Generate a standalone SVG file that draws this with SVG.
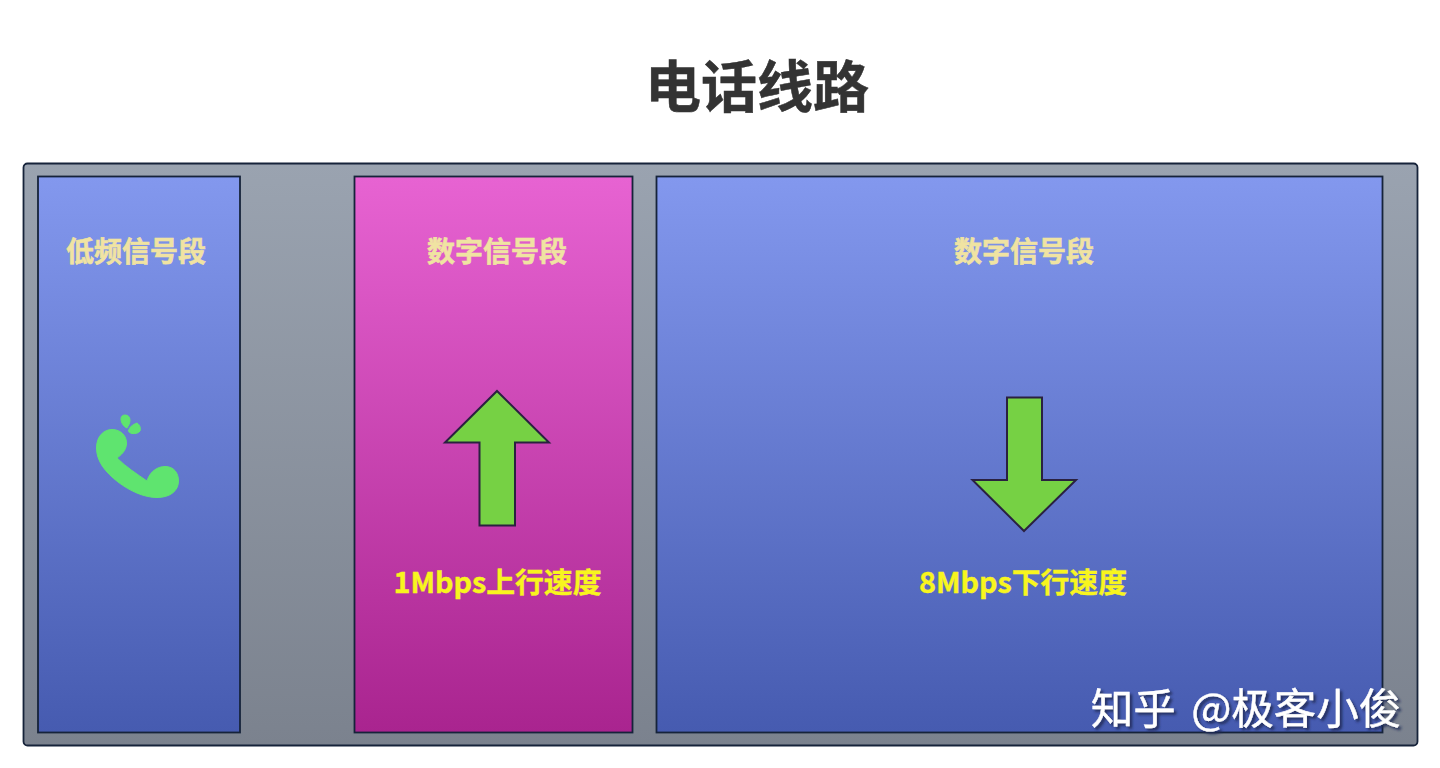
<svg xmlns="http://www.w3.org/2000/svg" width="1440" height="768" viewBox="0 0 1440 768">
<defs>
<linearGradient id="g" x1="0" y1="0" x2="0" y2="1"><stop offset="0" stop-color="#9aa3b0"/><stop offset="1" stop-color="#7b828e"/></linearGradient>
<linearGradient id="b" x1="0" y1="0" x2="0" y2="1"><stop offset="0" stop-color="#8398ee"/><stop offset="1" stop-color="#465bb0"/></linearGradient>
<linearGradient id="p" x1="0" y1="0" x2="0" y2="1"><stop offset="0" stop-color="#e763d2"/><stop offset="1" stop-color="#a9248f"/></linearGradient>
<filter id="s" x="-5%" y="-20%" width="110%" height="140%"><feDropShadow dx="2.500" dy="2.500" stdDeviation="1" flood-color="#1c2a55" flood-opacity="0.85"/></filter>
</defs>
<style>
text{font-family:"Noto Sans CJK SC","Noto Sans",sans-serif;text-anchor:middle}
.panel{stroke:#16233a;stroke-width:1.8}
.head{font-size:28px;font-weight:700;fill:#f0e3a2;stroke:#f0e3a2;stroke-width:.6}
.speed{font-size:28.8px;font-weight:700;fill:#f8f51e;stroke:#f8f51e;stroke-width:.4}
.arrow{fill:#76d144;stroke:#2a2140;stroke-width:2;stroke-linejoin:miter}
</style>
<rect width="1440" height="768" fill="#fff"/>
<g id="title"><text x="757" y="107" font-size="56" font-weight="700" fill="#333333" stroke="#333333" stroke-width=".5">电话线路</text></g>
<g id="line"><rect class="panel" x="23.500" y="163.500" width="1394" height="582" rx="4" fill="url(#g)"/></g>
<g id="low-band">
<rect class="panel" x="38" y="176.500" width="202" height="556" fill="url(#b)"/>
<text class="head" x="136" y="262">低频信号段</text>
<g id="phone" fill="#5fe46f" stroke="#5fe46f" stroke-width="1" stroke-linejoin="round">
<path d="M96.500 448C96.500 436 104 429.500 112 429.500C121 429.500 127 436 126.500 444C126 451 121 455 117 458C126 467 137 474 147 481C150 471 158 466.500 165 466.500C174 466.500 178.500 473 178.500 481C178.500 491 170 497.500 157 497.500C144 497.500 130 491 118 482C105 472 96.500 461 96.500 448Z"/>
<path d="M125 415C128 415 130 417 130 420C130 424 128 426 127 428C124 427 121 423 121 419C121 416.500 122.500 415 125 415Z"/>
<path d="M137 423C140 425 141 428 140 431C139 433 135 434 132 433.500C130 433 129 432.500 128.500 431C129 427 133 424.500 137 423Z"/>
</g>
</g>
<g id="upstream">
<rect class="panel" x="354.500" y="176.500" width="278" height="556" fill="url(#p)"/>
<text class="head" x="497" y="262">数字信号段</text>
<polygon class="arrow" points="497,391 549,442.500 515,442.500 515,525.500 479.500,525.500 479.500,442.500 445,442.500"/>
<text class="speed" x="497.500" y="593">1Mbps上行速度</text>
</g>
<g id="downstream">
<rect class="panel" x="656.500" y="176.500" width="726" height="556" fill="url(#b)"/>
<text class="head" x="1024" y="262">数字信号段</text>
<polygon class="arrow" points="1024,531 1076,480 1042,480 1042,397.500 1007,397.500 1007,480 972.500,480"/>
<text class="speed" x="1023" y="593">8Mbps下行速度</text>
</g>
<g id="watermark"><text x="1246" y="724" font-size="42.500" fill="#ffffff" stroke="#ffffff" stroke-width=".4" filter="url(#s)" xml:space="preserve" word-spacing="6">知乎 @极客小俊</text></g>
<g id="connectors"/>
</svg>
